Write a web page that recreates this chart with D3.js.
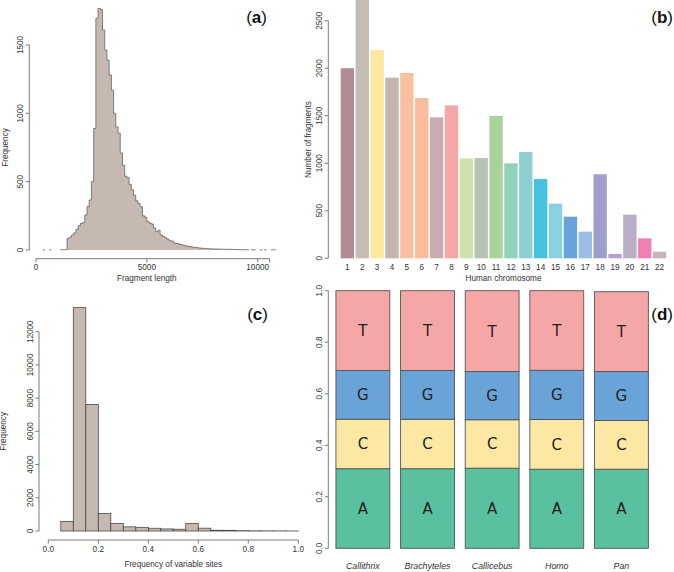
<!DOCTYPE html>
<html><head><meta charset="utf-8">
<script src="https://cdn.jsdelivr.net/npm/d3@7"></script>
<style>
body{margin:0;background:#fff;}
svg{display:block;font-family:"Liberation Sans",Arial,sans-serif;}
</style></head><body>
<svg id="c" width="674" height="572"></svg>
<script>
// ---------- data ----------
// (a) fragment length histogram, 100 bp bins starting at 0
const fragBinWidth = 100;
const fragCounts = [0,0,0,1,0,0,1,0,0,0, 0,1,2,2,85,93,110,125,150,178,
  195,200,256,317,366,500,890,1695,1768,1760, 1610,1463,1390,1280,1170,1000,900,855,710,620,
  540,530,480,440,400,360,340,317,250,240, 207,197,190,161,134,145,110,100,90,80,
  68,65,51,48,45,40,36,32,28,25, 22,20,18,15,14,12,11,10,9,8,
  8,7,7,6,6,5,5,5,4,4, 3,3,2,2,2,1,0,1,1,0, 0,1,0,1,0,0,1,1,0,0];
const fragXTicks = [0,5000,10000];
const fragYTicks = [0,500,1000,1500];

// (b) fragments per human chromosome
const chromosomes = ["1","2","3","4","5","6","7","8","9","10","11","12","13","14","15","16","17","18","19","20","21","22"];
const chromCounts = [2000,2730,2190,1900,1950,1686,1483,1609,1052,1055,1497,999,1118,834,575,438,280,884,46,459,210,70];
const chromColors = ["#b08c92","#c3bdb3","#fde8a0","#c4b5b2","#f9c0a1","#f9bc9d","#c7acb0","#f4a6a7","#cfe2ac","#b8c2b0","#a8d49c","#8fd1bc","#8ecfd1","#46c2e0","#8bd0e2","#68a3da","#9bbde6","#9e9fcf","#b69fd0","#b8aec6","#ef80b4","#c6b4b8"];
const chromYTicks = [0,500,1000,1500,2000,2500];

// (c) frequency of variable sites, bins of 0.05
const varBinWidth = 0.05;
const varCounts = [0,580,13450,7620,1050,450,250,220,165,125,105,455,170,45,40,20,12,8,5,3];
const varXTicks = [0,0.2,0.4,0.6,0.8,1.0];
const varYTicks = [0,2000,4000,6000,8000,10000,12000];

// (d) base composition
const species = ["Callithrix","Brachyteles","Callicebus","Homo","Pan"];
const bases = ["A","C","G","T"];
const baseA = [0.309,0.309,0.311,0.307,0.307];
const baseC = [0.192,0.192,0.188,0.193,0.189];
const baseG = [0.189,0.189,0.187,0.191,0.190];
const baseT = [0.310,0.310,0.314,0.309,0.310];
const baseColors = {A:"#5ac1a0",C:"#fde8a3",G:"#6aa3d8",T:"#f5a7a8"};
const propTicks = [0,0.2,0.4,0.6,0.8,1.0];

// ---------- drawing ----------
const svg = d3.select("#c");
const axisCol = "#6e6e6e", textCol = "#333";
const tickFont = 8.2, labFont = 8.2;

function yAxis(g, scale, ticks, x, fmt){
  const a = g.append("g");
  a.append("line").attr("x1",x).attr("x2",x).attr("y1",scale(ticks[0])).attr("y2",scale(ticks[ticks.length-1])).attr("stroke",axisCol).attr("stroke-width",0.9);
  ticks.forEach(t=>{
    a.append("line").attr("x1",x-3.6).attr("x2",x).attr("y1",scale(t)).attr("y2",scale(t)).attr("stroke",axisCol).attr("stroke-width",0.9);
    a.append("text").attr("transform",`translate(${x-6.5},${scale(t)}) rotate(-90)`).attr("text-anchor","middle").attr("font-size",tickFont).attr("fill",textCol).text(fmt?fmt(t):t);
  });
}
function xAxis(g, scale, ticks, y, fmt, extra){
  const a = g.append("g");
  const all = extra ? ticks.concat(extra) : ticks;
  a.append("line").attr("y1",y).attr("y2",y).attr("x1",scale(d3.min(all))).attr("x2",scale(d3.max(all))).attr("stroke",axisCol).attr("stroke-width",0.9);
  all.forEach(t=>{
    a.append("line").attr("y1",y).attr("y2",y+3.6).attr("x1",scale(t)).attr("x2",scale(t)).attr("stroke",axisCol).attr("stroke-width",0.9);
  });
  ticks.forEach(t=>{
    a.append("text").attr("x",scale(t)).attr("y",y+11.5).attr("text-anchor","middle").attr("font-size",tickFont).attr("fill",textCol).text(fmt?fmt(t):t);
  });
}
function panelLabel(x,y,l){
  const t = svg.append("text").attr("x",x).attr("y",y).attr("text-anchor","end").attr("font-size",17).attr("fill","#111");
  t.append("tspan").text("(");
  t.append("tspan").attr("font-weight","bold").text(l);
  t.append("tspan").text(")");
}

// ---- (a)
{
  const g = svg.append("g");
  const x = d3.scaleLinear().domain([0,10000]).range([36,257.7]);
  const y = d3.scaleLinear().domain([0,1500]).range([250,45]);
  const fill = "#c5b9b2", line = "#555";
  // fill as one polygon per contiguous run of non-empty bins
  let fp = "", op = "", inRun = false;
  fragCounts.forEach((c,i)=>{
    const x0 = x(i*fragBinWidth), x1 = x((i+1)*fragBinWidth);
    if(c<=0){ return; }
    const prev = i>0 ? fragCounts[i-1] : 0;
    const next = i<fragCounts.length-1 ? fragCounts[i+1] : 0;
    if(prev<=0){ fp += `M${x0},${y(0)}`; op += `M${x0},${y(0)}`; }
    fp += `V${y(c)}H${x1}`;
    op += `V${y(c)}H${x1}`;
    if(next<=0){ fp += `V${y(0)}Z`; op += `V${y(0)}`; }
  });
  g.append("path").attr("d",fp).attr("fill",fill).attr("stroke","none");
  g.append("path").attr("d",op).attr("fill","none").attr("stroke",line).attr("stroke-width",0.7);
  yAxis(g, y, fragYTicks, 29.3);
  xAxis(g, x, fragXTicks, 258.7, null, [10530]);
  g.append("text").attr("x",x(5000)).attr("y",281).attr("text-anchor","middle").attr("font-size",labFont).attr("fill",textCol).text("Fragment length");
  g.append("text").attr("transform",`translate(8,${y(750)}) rotate(-90)`).attr("text-anchor","middle").attr("font-size",labFont).attr("fill",textCol).text("Frequency");
  panelLabel(267,23,"a");
}

// ---- (b)
{
  const g = svg.append("g");
  const x = d3.scaleBand().domain(chromosomes).range([339.95,667.05]).paddingInner(0.1).paddingOuter(0.05);
  const y = d3.scaleLinear().domain([0,2500]).range([258.3,20.7]);
  chromosomes.forEach((c,i)=>{
    g.append("rect").attr("x",x(c)).attr("width",x.bandwidth()).attr("y",y(chromCounts[i])).attr("height",y(0)-y(chromCounts[i])).attr("fill",chromColors[i]);
    g.append("text").attr("x",x(c)+x.bandwidth()/2).attr("y",270).attr("text-anchor","middle").attr("font-size",tickFont).attr("fill",textCol).text(c);
  });
  yAxis(g, y, chromYTicks, 328.3);
  g.append("text").attr("x",(x("1")+x("22")+x.bandwidth())/2).attr("y",281).attr("text-anchor","middle").attr("font-size",labFont).attr("fill",textCol).text("Human chromosome");
  g.append("text").attr("transform",`translate(311,${y(1250)}) rotate(-90)`).attr("text-anchor","middle").attr("font-size",labFont).attr("fill",textCol).text("Number of fragments");
  panelLabel(673,23,"b");
}

// ---- (c)
{
  const g = svg.append("g");
  const x = d3.scaleLinear().domain([0,1]).range([48.3,298.3]);
  const y = d3.scaleLinear().domain([0,12000]).range([531,331.7]);
  varCounts.forEach((c,i)=>{
    const x0 = x(i*varBinWidth), x1 = x((i+1)*varBinWidth);
    g.append("rect").attr("x",x0).attr("width",x1-x0).attr("y",y(c)).attr("height",y(0)-y(c)).attr("fill","#c5b9b2").attr("stroke","#4a4a4a").attr("stroke-width",0.8);
  });
  yAxis(g, y, varYTicks, 39);
  xAxis(g, x, varXTicks, 540, d3.format(".1f"));
  g.append("text").attr("x",x(0.5)).attr("y",567).attr("text-anchor","middle").attr("font-size",labFont).attr("fill",textCol).text("Frequency of variable sites");
  g.append("text").attr("transform",`translate(6,${y(6000)}) rotate(-90)`).attr("text-anchor","middle").attr("font-size",labFont).attr("fill",textCol).text("Frequency");
  panelLabel(268,320,"c");
}

// ---- (d)
{
  const g = svg.append("g");
  const x = d3.scaleBand().domain(species).range([330.55,653.75]).paddingInner(0.1667).paddingOuter(0.0833);
  const y = d3.scaleLinear().domain([0,1]).range([548.3,290.7]);
  const vals = {A:baseA,C:baseC,G:baseG,T:baseT};
  species.forEach((s,i)=>{
    let cum = 0;
    bases.forEach(b=>{
      const v = vals[b][i];
      const y0 = y(cum), y1 = y(cum+v);
      g.append("rect").attr("x",x(s)).attr("width",x.bandwidth()).attr("y",y1).attr("height",y0-y1).attr("fill",baseColors[b]).attr("stroke","#555").attr("stroke-width",0.9);
      g.append("text").attr("x",x(s)+x.bandwidth()/2).attr("y",(y0+y1)/2).attr("dy","0.36em").attr("text-anchor","middle").attr("font-size",15).attr("fill","#222").attr("font-family","'DejaVu Sans',sans-serif").text(b);
      cum += v;
    });
    g.append("text").attr("x",x(s)+x.bandwidth()/2).attr("y",569).attr("text-anchor","middle").attr("font-size",8.8).attr("font-style","italic").attr("fill",textCol).text(s);
  });
  yAxis(g, y, propTicks, 328.3, d3.format(".1f"));
  panelLabel(673,320,"d");
}
</script></body></html>
